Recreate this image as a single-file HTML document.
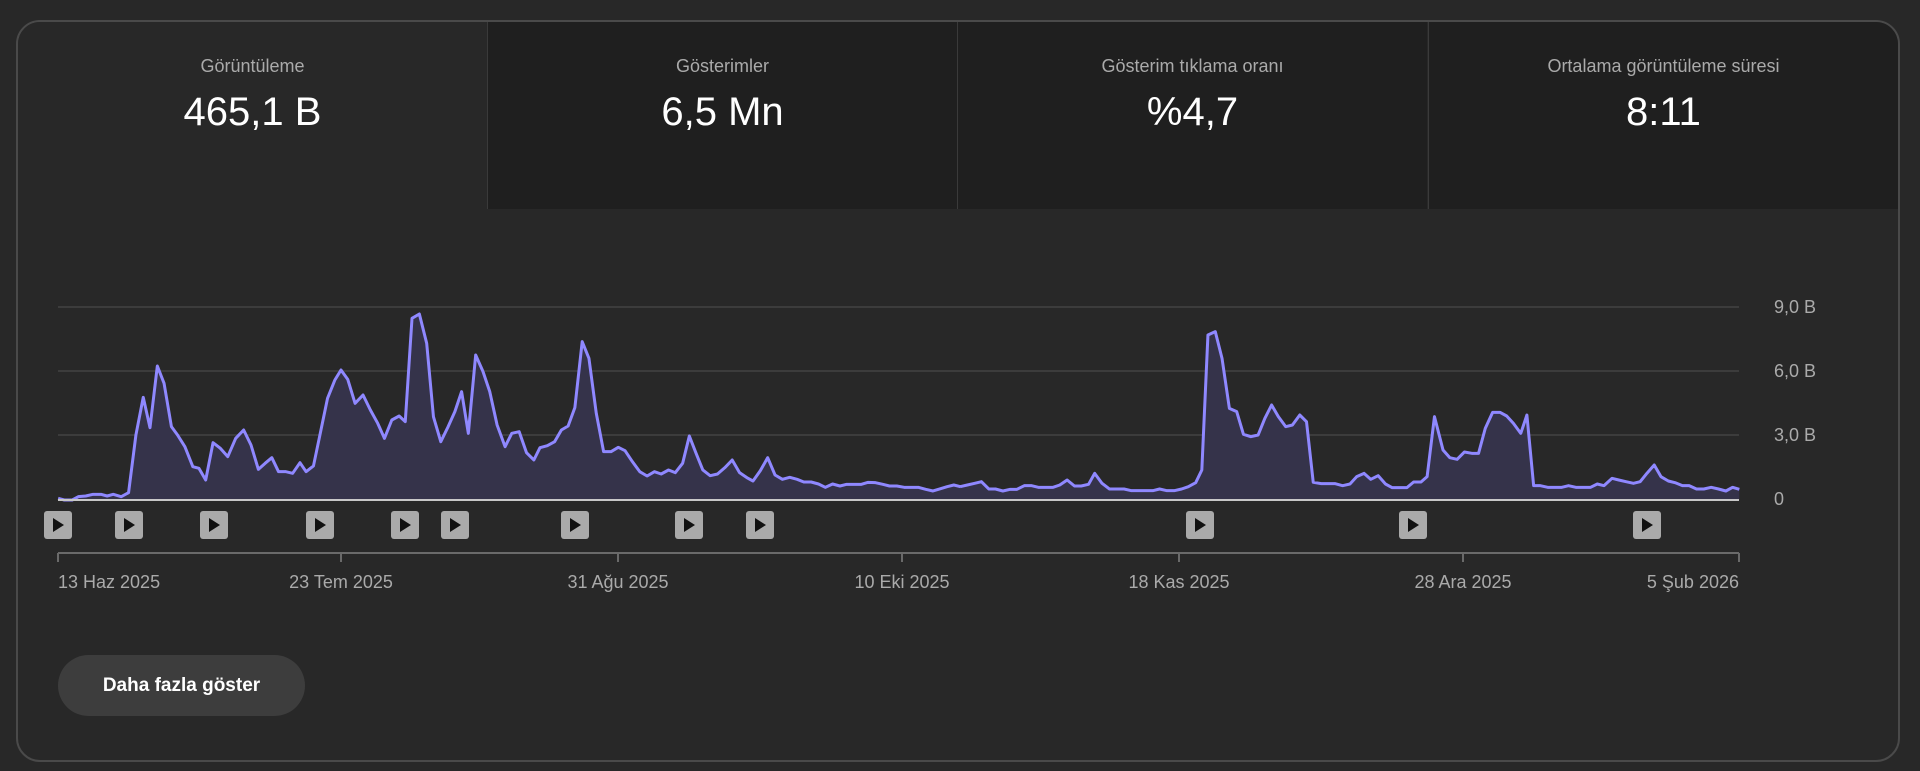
<!DOCTYPE html>
<html><head><meta charset="utf-8"><style>
html,body{margin:0;padding:0;background:#282828;width:1920px;height:771px;overflow:hidden;font-family:"Liberation Sans",sans-serif;}
.card{position:absolute;left:16px;top:20px;width:1880px;height:738px;border:2px solid #4a4a4a;border-radius:24px;overflow:hidden;background:#282828;}
.tab{position:absolute;top:0;height:187px;width:470px;background:#1f1f1f;text-align:center;border-left:1px solid #3a3a3a;box-sizing:border-box;}
.tab .l{position:absolute;top:34px;left:0;right:0;color:#aaa;font-size:18px;}
.tab .v{position:absolute;top:68px;left:0;right:0;color:#fff;font-size:40px;}
.ax{position:absolute;color:#aaa;font-size:18px;}
.btn{position:absolute;left:58px;top:655px;width:247px;height:61px;border-radius:31px;background:#3d3d3d;color:#fff;font-size:19px;font-weight:bold;line-height:61px;text-align:center;}
</style></head><body>
<div class="card">
<div class="tab" style="left:0;background:#282828;border-left:none;width:469px"><div class="l">Görüntüleme</div><div class="v">465,1 B</div></div>
<div class="tab" style="left:469px"><div class="l">Gösterimler</div><div class="v">6,5 Mn</div></div>
<div class="tab" style="left:939px"><div class="l">Gösterim tıklama oranı</div><div class="v">%4,7</div></div>
<div class="tab" style="left:1410px"><div class="l">Ortalama görüntüleme süresi</div><div class="v">8:11</div></div>
</div>
<svg style="position:absolute;left:0;top:0" width="1920" height="771">
<g stroke="#3c3c3c" stroke-width="2"><line x1="58" y1="307" x2="1739" y2="307"/><line x1="58" y1="371" x2="1739" y2="371"/><line x1="58" y1="435" x2="1739" y2="435"/></g>
<g transform="translate(0,280) scale(0.6122,0.33333)">
<path fill="#35334a" stroke="none" d="M95,659 L95,655 105,660 118,660 128,650 140,648 152,643 165,643 175,648 185,643 198,650 210,638 222,465 234,352 245,443 257,258 268,310 280,440 290,465 302,500 315,560 325,565 336,600 348,488 360,505 372,530 385,475 398,450 410,495 422,568 433,550 444,533 455,575 467,575 478,580 490,548 500,575 512,558 522,470 535,355 547,300 557,270 568,298 580,370 593,345 605,390 617,430 628,475 640,420 652,408 662,425 673,115 685,102 697,190 708,410 720,485 732,440 743,395 754,335 765,460 777,225 789,275 800,335 812,435 825,500 836,460 848,455 860,518 872,540 882,503 894,497 906,485 917,450 928,438 939,383 951,185 962,235 974,400 986,515 998,515 1010,502 1021,512 1033,545 1045,575 1057,588 1069,575 1080,582 1092,570 1103,578 1115,550 1126,468 1137,520 1148,570 1160,587 1172,582 1184,563 1196,540 1208,578 1220,593 1230,603 1242,572 1254,533 1266,585 1278,598 1290,592 1302,598 1313,606 1325,606 1337,612 1348,622 1360,612 1372,618 1383,613 1395,613 1407,613 1418,607 1430,608 1442,613 1453,618 1465,618 1477,622 1489,622 1500,622 1512,628 1524,633 1535,627 1547,620 1558,615 1569,620 L1569,659 Z"/>
<path fill="none" stroke="#8f88ff" stroke-width="3" vector-effect="non-scaling-stroke" stroke-linejoin="round" d="M95,655 105,660 118,660 128,650 140,648 152,643 165,643 175,648 185,643 198,650 210,638 222,465 234,352 245,443 257,258 268,310 280,440 290,465 302,500 315,560 325,565 336,600 348,488 360,505 372,530 385,475 398,450 410,495 422,568 433,550 444,533 455,575 467,575 478,580 490,548 500,575 512,558 522,470 535,355 547,300 557,270 568,298 580,370 593,345 605,390 617,430 628,475 640,420 652,408 662,425 673,115 685,102 697,190 708,410 720,485 732,440 743,395 754,335 765,460 777,225 789,275 800,335 812,435 825,500 836,460 848,455 860,518 872,540 882,503 894,497 906,485 917,450 928,438 939,383 951,185 962,235 974,400 986,515 998,515 1010,502 1021,512 1033,545 1045,575 1057,588 1069,575 1080,582 1092,570 1103,578 1115,550 1126,468 1137,520 1148,570 1160,587 1172,582 1184,563 1196,540 1208,578 1220,593 1230,603 1242,572 1254,533 1266,585 1278,598 1290,592 1302,598 1313,606 1325,606 1337,612 1348,622 1360,612 1372,618 1383,613 1395,613 1407,613 1418,607 1430,608 1442,613 1453,618 1465,618 1477,622 1489,622 1500,622 1512,628 1524,633 1535,627 1547,620 1558,615 1569,620"/>
</g>
<g transform="translate(960,280) scale(0.6122,0.33333)">
<path fill="#35334a" stroke="none" d="M0,659 L0,620 12,615 24,610 35,605 47,627 58,627 70,633 82,628 93,628 105,617 117,617 128,622 140,622 152,622 163,615 175,600 187,618 198,618 210,613 220,580 232,610 244,627 256,627 268,627 280,632 292,632 304,632 315,632 326,627 338,632 350,632 362,627 373,620 385,608 395,570 405,165 417,155 428,235 440,385 452,395 463,463 475,470 487,465 498,415 509,375 520,410 532,440 543,435 555,405 566,425 577,607 590,611 602,611 613,611 625,617 637,612 648,590 660,580 671,598 683,587 695,612 706,623 718,623 730,623 741,606 753,606 763,590 775,410 789,510 800,533 812,538 824,516 836,520 847,520 858,445 870,397 882,397 893,408 904,430 916,460 926,405 937,617 948,617 960,622 971,622 983,622 994,617 1006,622 1018,622 1030,622 1041,612 1052,617 1065,595 1076,600 1088,605 1100,610 1111,605 1122,580 1134,555 1145,590 1157,603 1168,608 1180,617 1191,617 1203,627 1215,627 1227,622 1239,627 1251,633 1262,622 1273,628 L1273,659 Z"/>
<path fill="none" stroke="#8f88ff" stroke-width="3" vector-effect="non-scaling-stroke" stroke-linejoin="round" d="M0,620 12,615 24,610 35,605 47,627 58,627 70,633 82,628 93,628 105,617 117,617 128,622 140,622 152,622 163,615 175,600 187,618 198,618 210,613 220,580 232,610 244,627 256,627 268,627 280,632 292,632 304,632 315,632 326,627 338,632 350,632 362,627 373,620 385,608 395,570 405,165 417,155 428,235 440,385 452,395 463,463 475,470 487,465 498,415 509,375 520,410 532,440 543,435 555,405 566,425 577,607 590,611 602,611 613,611 625,617 637,612 648,590 660,580 671,598 683,587 695,612 706,623 718,623 730,623 741,606 753,606 763,590 775,410 789,510 800,533 812,538 824,516 836,520 847,520 858,445 870,397 882,397 893,408 904,430 916,460 926,405 937,617 948,617 960,622 971,622 983,622 994,617 1006,622 1018,622 1030,622 1041,612 1052,617 1065,595 1076,600 1088,605 1100,610 1111,605 1122,580 1134,555 1145,590 1157,603 1168,608 1180,617 1191,617 1203,627 1215,627 1227,622 1239,627 1251,633 1262,622 1273,628"/>
</g>
<line x1="58" y1="500" x2="1739" y2="500" stroke="#c8c8c8" stroke-width="2"/>
<line x1="58" y1="553" x2="1739" y2="553" stroke="#6a6a6a" stroke-width="2"/>
<g stroke="#6a6a6a" stroke-width="2"><line x1="58" y1="553" x2="58" y2="562"/><line x1="341" y1="553" x2="341" y2="562"/><line x1="618" y1="553" x2="618" y2="562"/><line x1="902" y1="553" x2="902" y2="562"/><line x1="1179" y1="553" x2="1179" y2="562"/><line x1="1463" y1="553" x2="1463" y2="562"/><line x1="1739" y1="553" x2="1739" y2="562"/></g>
<g>
<g transform="translate(58,525)"><rect x="-14" y="-14" width="28" height="28" rx="3" fill="#aaa"/><path d="M-5,-7 L6,0 L-5,7Z" fill="#111"/></g>
<g transform="translate(129,525)"><rect x="-14" y="-14" width="28" height="28" rx="3" fill="#aaa"/><path d="M-5,-7 L6,0 L-5,7Z" fill="#111"/></g>
<g transform="translate(214,525)"><rect x="-14" y="-14" width="28" height="28" rx="3" fill="#aaa"/><path d="M-5,-7 L6,0 L-5,7Z" fill="#111"/></g>
<g transform="translate(320,525)"><rect x="-14" y="-14" width="28" height="28" rx="3" fill="#aaa"/><path d="M-5,-7 L6,0 L-5,7Z" fill="#111"/></g>
<g transform="translate(405,525)"><rect x="-14" y="-14" width="28" height="28" rx="3" fill="#aaa"/><path d="M-5,-7 L6,0 L-5,7Z" fill="#111"/></g>
<g transform="translate(455,525)"><rect x="-14" y="-14" width="28" height="28" rx="3" fill="#aaa"/><path d="M-5,-7 L6,0 L-5,7Z" fill="#111"/></g>
<g transform="translate(575,525)"><rect x="-14" y="-14" width="28" height="28" rx="3" fill="#aaa"/><path d="M-5,-7 L6,0 L-5,7Z" fill="#111"/></g>
<g transform="translate(689,525)"><rect x="-14" y="-14" width="28" height="28" rx="3" fill="#aaa"/><path d="M-5,-7 L6,0 L-5,7Z" fill="#111"/></g>
<g transform="translate(760,525)"><rect x="-14" y="-14" width="28" height="28" rx="3" fill="#aaa"/><path d="M-5,-7 L6,0 L-5,7Z" fill="#111"/></g>
<g transform="translate(1200,525)"><rect x="-14" y="-14" width="28" height="28" rx="3" fill="#aaa"/><path d="M-5,-7 L6,0 L-5,7Z" fill="#111"/></g>
<g transform="translate(1413,525)"><rect x="-14" y="-14" width="28" height="28" rx="3" fill="#aaa"/><path d="M-5,-7 L6,0 L-5,7Z" fill="#111"/></g>
<g transform="translate(1647,525)"><rect x="-14" y="-14" width="28" height="28" rx="3" fill="#aaa"/><path d="M-5,-7 L6,0 L-5,7Z" fill="#111"/></g>
</g>
</svg>
<div class="ax" style="left:1774px;top:297px">9,0 B</div>
<div class="ax" style="left:1774px;top:361px">6,0 B</div>
<div class="ax" style="left:1774px;top:425px">3,0 B</div>
<div class="ax" style="left:1774px;top:489px">0</div>
<div class="ax" style="left:58px;top:572px">13 Haz 2025</div>
<div class="ax" style="left:241px;width:200px;text-align:center;top:572px">23 Tem 2025</div>
<div class="ax" style="left:518px;width:200px;text-align:center;top:572px">31 Ağu 2025</div>
<div class="ax" style="left:802px;width:200px;text-align:center;top:572px">10 Eki 2025</div>
<div class="ax" style="left:1079px;width:200px;text-align:center;top:572px">18 Kas 2025</div>
<div class="ax" style="left:1363px;width:200px;text-align:center;top:572px">28 Ara 2025</div>
<div class="ax" style="left:1539px;width:200px;text-align:right;top:572px">5 Şub 2026</div>
<div class="btn">Daha fazla göster</div>
</body></html>
